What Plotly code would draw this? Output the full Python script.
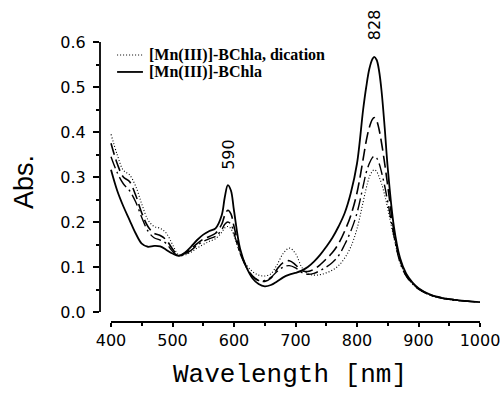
import plotly.graph_objects as go

wavelength = [400, 410, 420, 430, 440, 450, 460, 470, 480, 490, 500, 510, 520, 530, 540,
              550, 560, 570, 580, 585, 590, 595, 600, 610, 620, 630, 640, 650, 660, 670,
              680, 690, 700, 710, 720, 730, 740, 750, 760, 770, 780, 790, 800, 810, 815,
              820, 825, 828, 832, 836, 840, 845, 850, 860, 870, 880, 890, 900, 920, 940,
              960, 980, 1000]

abs_neutral = [0.316, 0.27, 0.235, 0.205, 0.175, 0.152, 0.145, 0.147, 0.146, 0.138, 0.13,
               0.125, 0.132, 0.145, 0.16, 0.172, 0.18, 0.186, 0.215, 0.255, 0.282, 0.27,
               0.225, 0.14, 0.1, 0.075, 0.062, 0.057, 0.06, 0.068, 0.077, 0.083, 0.087,
               0.092, 0.1, 0.112, 0.127, 0.145, 0.165, 0.19, 0.22, 0.265, 0.33, 0.45,
               0.5, 0.54, 0.562, 0.567, 0.56, 0.535, 0.49, 0.41, 0.32, 0.19, 0.12, 0.085,
               0.066, 0.053, 0.038, 0.031, 0.027, 0.024, 0.022]

abs_step1 = [0.375, 0.33, 0.30, 0.29, 0.26, 0.22, 0.19, 0.175, 0.17, 0.16, 0.14, 0.125,
             0.13, 0.14, 0.152, 0.162, 0.168, 0.175, 0.195, 0.215, 0.226, 0.218, 0.19,
             0.135, 0.1, 0.08, 0.07, 0.068, 0.075, 0.095, 0.11, 0.114, 0.105, 0.092,
             0.09, 0.095, 0.105, 0.118, 0.132, 0.152, 0.18, 0.215, 0.265, 0.34, 0.38,
             0.41, 0.428, 0.432, 0.425, 0.405, 0.375, 0.33, 0.28, 0.18, 0.115, 0.082,
             0.064, 0.052, 0.038, 0.031, 0.027, 0.024, 0.022]

abs_step2 = [0.345, 0.31, 0.285, 0.27, 0.245, 0.21, 0.18, 0.165, 0.16, 0.152, 0.135,
             0.125, 0.128, 0.137, 0.148, 0.157, 0.163, 0.168, 0.183, 0.195, 0.2, 0.195,
             0.175, 0.13, 0.1, 0.08, 0.07, 0.07, 0.077, 0.09, 0.1, 0.103, 0.098, 0.088,
             0.084, 0.086, 0.092, 0.1, 0.11, 0.125, 0.15, 0.18, 0.22, 0.28, 0.31, 0.33,
             0.343, 0.346, 0.342, 0.33, 0.31, 0.28, 0.245, 0.17, 0.11, 0.08, 0.063,
             0.051, 0.037, 0.03, 0.026, 0.024, 0.022]

abs_dication = [0.395, 0.35, 0.315, 0.305, 0.28, 0.24, 0.205, 0.19, 0.186, 0.175, 0.15,
                0.127, 0.127, 0.133, 0.142, 0.15, 0.157, 0.163, 0.177, 0.187, 0.19,
                0.185, 0.17, 0.13, 0.105, 0.09, 0.082, 0.08, 0.085, 0.105, 0.13, 0.142,
                0.13, 0.1, 0.085, 0.082, 0.083, 0.087, 0.093, 0.103, 0.12, 0.145, 0.185,
                0.245, 0.275, 0.3, 0.313, 0.316, 0.312, 0.3, 0.285, 0.26, 0.23, 0.165,
                0.11, 0.08, 0.063, 0.051, 0.037, 0.03, 0.026, 0.024, 0.022]

legend_names = ["[Mn(III)]-BChla, dication", "[Mn(III)]-BChla"]
peak_labels = [590, 828]
y_ticks = [0.0, 0.1, 0.2, 0.3, 0.4, 0.5, 0.6]
x_ticks = [400, 500, 600, 700, 800, 900, 1000]

fig = go.Figure()
series = [
    (abs_neutral, "solid", 1.8),
    (abs_step1, "12px,5px", 1.6),
    (abs_step2, "12px,4px,2px,4px", 1.4),
    (abs_dication, "1px,2px", 1.1),
]
for vals, dash, w in series:
    fig.add_trace(go.Scatter(x=wavelength, y=vals, mode="lines", line_shape="spline",
                             line=dict(color="black", width=w, dash=dash),
                             showlegend=False, hoverinfo="skip"))

# axis lines (detached)
fig.add_shape(type="line", xref="paper", yref="y", x0=0, x1=0, y0=y_ticks[0], y1=y_ticks[-1],
              line=dict(color="black", width=1.8))
fig.add_shape(type="line", xref="x", yref="paper", x0=x_ticks[0], x1=x_ticks[-1], y0=0, y1=0,
              line=dict(color="black", width=1.8))

# legend (manual)
legend_dash = ["1px,2px", "solid"]
legend_w = [1.1, 1.8]
legend_y = [0.9536, 0.893]
for name, d, w, ly in zip(legend_names, legend_dash, legend_w, legend_y):
    fig.add_shape(type="line", xref="paper", yref="paper", x0=0.045, x1=0.113, y0=ly, y1=ly,
                  line=dict(color="black", width=w, dash=d))
    fig.add_annotation(xref="paper", yref="paper", x=0.124, y=ly, text="<b>" + name + "</b>",
                       showarrow=False, xanchor="left", yanchor="middle",
                       font=dict(family="Liberation Serif", size=16, color="black"))

# peak labels (y in paper units: 154 px and 25 px from top)
label_paper_y = [(322 - 154) / 280, (322 - 25) / 280]
for lab, ly in zip(peak_labels, label_paper_y):
    fig.add_annotation(x=lab, xref="x", yref="paper", y=ly, text=str(lab), showarrow=False,
                       textangle=-90, xanchor="center", yanchor="middle",
                       font=dict(family="DejaVu Sans", size=16, color="black"))

fig.update_layout(
    width=504, height=393,
    margin=dict(l=100, r=24, t=42, b=71, autoexpand=False),
    plot_bgcolor="white", paper_bgcolor="white",
    showlegend=False,
    xaxis=dict(range=[382.1, 1000], tickvals=x_ticks, ticks="outside", ticklen=4,
               tickwidth=1.5, tickcolor="black", showline=False, showgrid=False,
               zeroline=False, automargin=False,
               minor=dict(dtick=50, tick0=400, ticks="outside", ticklen=3, tickcolor="black"),
               tickfont=dict(family="DejaVu Sans", size=16, color="black"),
               title=dict(text="Wavelength [nm]", standoff=14,
                          font=dict(family="Liberation Mono", size=26, color="black"))),
    yaxis=dict(range=[-0.0222, 0.6], tickvals=y_ticks, tickformat=".1f", ticks="outside",
               ticklen=6, tickwidth=1.5, tickcolor="black", showline=False, showgrid=False,
               zeroline=False, automargin=False, ticklabelstandoff=4,
               minor=dict(dtick=0.05, tick0=0, ticks="outside", ticklen=3, tickcolor="black"),
               tickfont=dict(family="DejaVu Sans", size=16, color="black"),
               title=dict(text="Abs.", standoff=18,
                          font=dict(family="Liberation Sans", size=27, color="black"))),
)

fig.write_html("out.html", config={"displayModeBar": False},
               post_script="document.body.style.margin='0';")
